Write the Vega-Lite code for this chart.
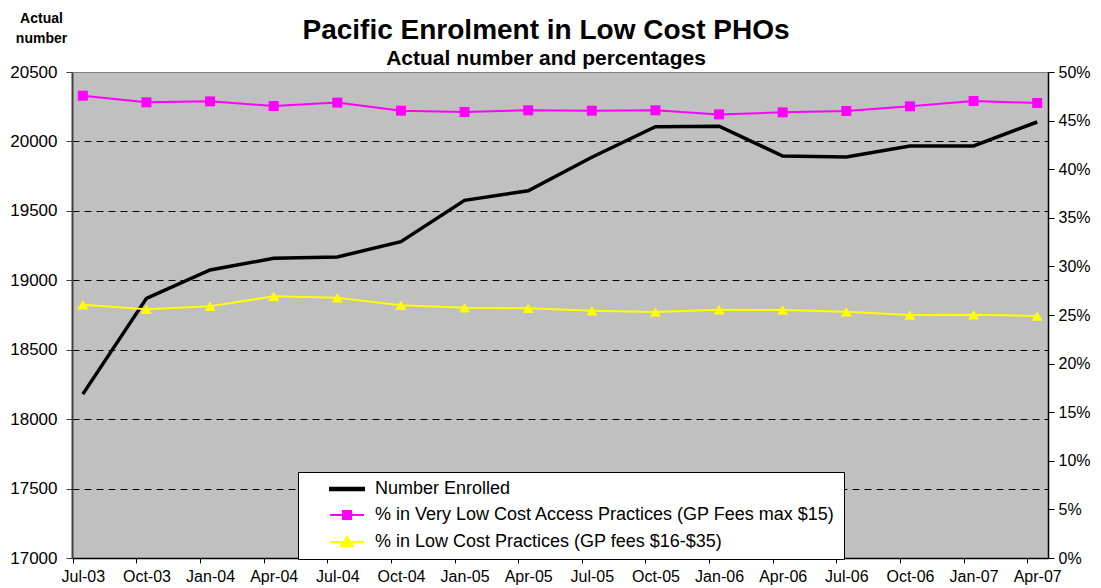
{
  "$schema": "https://vega.github.io/schema/vega-lite/v6.json",
  "width": 976,
  "height": 486,
  "autosize": {"type": "none"},
  "padding": {"left": 72, "top": 72, "right": 53, "bottom": 30},
  "background": "white",
  "config": {
    "font": "Liberation Sans",
    "view": {"fill": "#C0C0C0", "stroke": "#808080", "strokeWidth": 1}
  },
  "title": {
    "text": "Pacific Enrolment in Low Cost PHOs",
    "subtitle": "Actual number and percentages",
    "anchor": "middle",
    "frame": "group",
    "dx": -14,
    "dy": 64,
    "fontSize": 28,
    "fontWeight": "bold",
    "color": "black",
    "subtitleFontSize": 21,
    "subtitleFontWeight": "bold",
    "subtitleColor": "black",
    "subtitlePadding": 3,
    "offset": 6
  },
  "data": {
    "values": [
      {"date": "Jul-03", "series": "Number Enrolled", "value": 18180},
      {"date": "Oct-03", "series": "Number Enrolled", "value": 18870},
      {"date": "Jan-04", "series": "Number Enrolled", "value": 19074},
      {"date": "Apr-04", "series": "Number Enrolled", "value": 19158},
      {"date": "Jul-04", "series": "Number Enrolled", "value": 19168},
      {"date": "Oct-04", "series": "Number Enrolled", "value": 19278},
      {"date": "Jan-05", "series": "Number Enrolled", "value": 19576},
      {"date": "Apr-05", "series": "Number Enrolled", "value": 19645},
      {"date": "Jul-05", "series": "Number Enrolled", "value": 19886},
      {"date": "Oct-05", "series": "Number Enrolled", "value": 20106},
      {"date": "Jan-06", "series": "Number Enrolled", "value": 20110},
      {"date": "Apr-06", "series": "Number Enrolled", "value": 19895},
      {"date": "Jul-06", "series": "Number Enrolled", "value": 19888},
      {"date": "Oct-06", "series": "Number Enrolled", "value": 19967},
      {"date": "Jan-07", "series": "Number Enrolled", "value": 19967},
      {"date": "Apr-07", "series": "Number Enrolled", "value": 20140},
      {"date": "Jul-03", "series": "% in Very Low Cost Access Practices (GP Fees max $15)", "value": 0.4756},
      {"date": "Oct-03", "series": "% in Very Low Cost Access Practices (GP Fees max $15)", "value": 0.4688},
      {"date": "Jan-04", "series": "% in Very Low Cost Access Practices (GP Fees max $15)", "value": 0.4698},
      {"date": "Apr-04", "series": "% in Very Low Cost Access Practices (GP Fees max $15)", "value": 0.4650},
      {"date": "Jul-04", "series": "% in Very Low Cost Access Practices (GP Fees max $15)", "value": 0.4685},
      {"date": "Oct-04", "series": "% in Very Low Cost Access Practices (GP Fees max $15)", "value": 0.4602},
      {"date": "Jan-05", "series": "% in Very Low Cost Access Practices (GP Fees max $15)", "value": 0.4588},
      {"date": "Apr-05", "series": "% in Very Low Cost Access Practices (GP Fees max $15)", "value": 0.4606},
      {"date": "Jul-05", "series": "% in Very Low Cost Access Practices (GP Fees max $15)", "value": 0.4602},
      {"date": "Oct-05", "series": "% in Very Low Cost Access Practices (GP Fees max $15)", "value": 0.4606},
      {"date": "Jan-06", "series": "% in Very Low Cost Access Practices (GP Fees max $15)", "value": 0.4564},
      {"date": "Apr-06", "series": "% in Very Low Cost Access Practices (GP Fees max $15)", "value": 0.4585},
      {"date": "Jul-06", "series": "% in Very Low Cost Access Practices (GP Fees max $15)", "value": 0.4599},
      {"date": "Oct-06", "series": "% in Very Low Cost Access Practices (GP Fees max $15)", "value": 0.4647},
      {"date": "Jan-07", "series": "% in Very Low Cost Access Practices (GP Fees max $15)", "value": 0.4702},
      {"date": "Apr-07", "series": "% in Very Low Cost Access Practices (GP Fees max $15)", "value": 0.4681},
      {"date": "Jul-03", "series": "% in Low Cost Practices (GP fees $16-$35)", "value": 0.2606},
      {"date": "Oct-03", "series": "% in Low Cost Practices (GP fees $16-$35)", "value": 0.2558},
      {"date": "Jan-04", "series": "% in Low Cost Practices (GP fees $16-$35)", "value": 0.2589},
      {"date": "Apr-04", "series": "% in Low Cost Practices (GP fees $16-$35)", "value": 0.2692},
      {"date": "Jul-04", "series": "% in Low Cost Practices (GP fees $16-$35)", "value": 0.2678},
      {"date": "Oct-04", "series": "% in Low Cost Practices (GP fees $16-$35)", "value": 0.2600},
      {"date": "Jan-05", "series": "% in Low Cost Practices (GP fees $16-$35)", "value": 0.2575},
      {"date": "Apr-05", "series": "% in Low Cost Practices (GP fees $16-$35)", "value": 0.2569},
      {"date": "Jul-05", "series": "% in Low Cost Practices (GP fees $16-$35)", "value": 0.2544},
      {"date": "Oct-05", "series": "% in Low Cost Practices (GP fees $16-$35)", "value": 0.2531},
      {"date": "Jan-06", "series": "% in Low Cost Practices (GP fees $16-$35)", "value": 0.2555},
      {"date": "Apr-06", "series": "% in Low Cost Practices (GP fees $16-$35)", "value": 0.2551},
      {"date": "Jul-06", "series": "% in Low Cost Practices (GP fees $16-$35)", "value": 0.2534},
      {"date": "Oct-06", "series": "% in Low Cost Practices (GP fees $16-$35)", "value": 0.2500},
      {"date": "Jan-07", "series": "% in Low Cost Practices (GP fees $16-$35)", "value": 0.2503},
      {"date": "Apr-07", "series": "% in Low Cost Practices (GP fees $16-$35)", "value": 0.2490}
    ]
  },
  "encoding": {
    "x": {
      "field": "date",
      "type": "ordinal",
      "sort": null,
      "scale": {"type": "point", "padding": 0.17},
      "axis": {
        "title": null,
        "labelAngle": 0,
        "labelFontSize": 16,
        "labelColor": "black",
        "labelPadding": 5,
        "tickColor": "black",
        "tickSize": 5,
        "tickOffset": -10,
        "labelOffset": 10,
        "domainColor": "black",
        "domainWidth": 1.5
      }
    },
    "color": {
      "field": "series",
      "type": "nominal",
      "scale": {
        "domain": ["Number Enrolled", "% in Very Low Cost Access Practices (GP Fees max $15)", "% in Low Cost Practices (GP fees $16-$35)"],
        "range": ["black", "#FF00FF", "#FFFF00"]
      },
      "legend": {
        "title": null,
        "orient": "none",
        "legendX": 226,
        "legendY": 400,
        "direction": "vertical",
        "fillColor": "white",
        "strokeColor": "black",
        "padding": 8,
        "rowPadding": 8,
        "labelFontSize": 18,
        "labelColor": "black",
        "labelLimit": 700,
        "symbolSize": 100,
        "symbolOffset": 32,
        "labelOffset": 19,
        "symbolStrokeWidth": 2,
        "encode": {
          "symbols": {
            "update": {
              "shape": {"signal": "datum.value === 'Number Enrolled' ? 'M-3.4,-0.25H3.4V0.25H-3.4Z' : (indexof(datum.value, 'Very') >= 0 ? 'M-3.4,0H3.4M-0.8,-0.8H0.8V0.8H-0.8Z' : 'M-3.4,0H3.4M0,-1.05L1.15,0.8H-1.15Z')"},
              "stroke": {"scale": "color", "field": "value"},
              "fill": {"scale": "color", "field": "value"},
              "strokeWidth": {"value": 2},
              "opacity": {"value": 1},
              "fillOpacity": {"value": 1},
              "strokeOpacity": {"value": 1}
            }
          }
        }
      }
    }
  },
  "layer": [
    {
      "transform": [{"filter": "datum.series === 'Number Enrolled'"}],
      "mark": {"type": "line", "strokeWidth": 3.5},
      "encoding": {
        "y": {
          "field": "value",
          "type": "quantitative",
          "scale": {"domain": [17000, 20500], "zero": false, "nice": false},
          "axis": {
            "orient": "left",
            "values": [17000, 17500, 18000, 18500, 19000, 19500, 20000, 20500],
            "format": "d",
            "title": ["Actual", "number"],
            "titleAngle": 0,
            "titleAlign": "center",
            "titleBaseline": "top",
            "titleX": -31,
            "titleY": -61,
            "titleFontSize": 14,
            "titleFontWeight": "bold",
            "titleColor": "black",
            "titleLineHeight": 20,
            "labelFontSize": 17,
            "labelColor": "black",
            "labelPadding": 9,
            "tickSize": 6,
            "tickColor": "#404040",
            "domainColor": "#404040",
            "domainWidth": 2,
            "grid": true,
            "gridColor": "black",
            "gridDash": [7, 5],
            "gridWidth": 1,
            "gridOpacity": {"condition": {"test": "datum.value == 17000 || datum.value == 20500", "value": 0}, "value": 1}
          }
        }
      }
    },
    {
      "transform": [{"filter": "datum.series !== 'Number Enrolled'"}],
      "encoding": {
        "y": {
          "field": "value",
          "type": "quantitative",
          "scale": {"domain": [0, 0.5], "nice": false},
          "axis": {
            "orient": "right",
            "values": [0, 0.05, 0.1, 0.15, 0.2, 0.25, 0.3, 0.35, 0.4, 0.45, 0.5],
            "format": ".0%",
            "title": null,
            "labelFontSize": 16,
            "labelColor": "black",
            "labelPadding": 4,
            "tickSize": 6,
            "tickColor": "black",
            "domainColor": "black",
            "domainWidth": 1.5,
            "grid": false
          }
        }
      },
      "layer": [
        {
          "mark": {"type": "line", "strokeWidth": 2}
        },
        {
          "transform": [{"filter": "indexof(datum.series, 'Very') >= 0"}],
          "mark": {"type": "point", "shape": "square", "filled": true, "size": 100, "opacity": 1}
        },
        {
          "transform": [{"filter": "indexof(datum.series, 'Very') < 0"}],
          "mark": {"type": "point", "shape": "triangle-up", "filled": true, "size": 120, "opacity": 1}
        }
      ]
    }
  ],
  "resolve": {"scale": {"y": "independent"}}
}
